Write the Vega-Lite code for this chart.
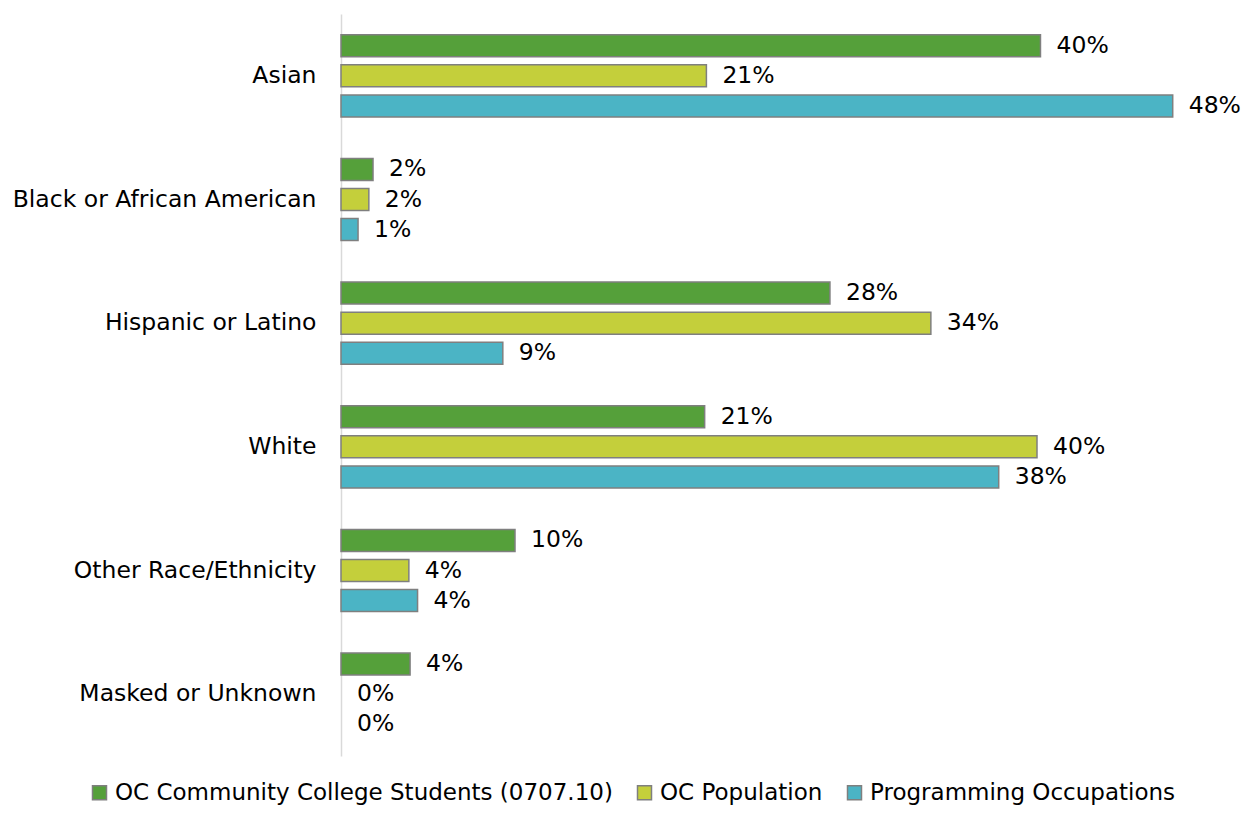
{
  "$schema": "https://vega.github.io/schema/vega-lite/v6.json",
  "autosize": "none",
  "padding": {"left": 341, "top": 14, "right": 34, "bottom": 65},
  "width": 870,
  "height": 742,
  "config": {
    "view": {"stroke": null},
    "font": "DejaVu Sans"
  },
  "data": {
    "values": [
      {"category": "Asian", "series": "OC Community College Students (0707.10)", "value": 0.402},
      {"category": "Asian", "series": "OC Population", "value": 0.21},
      {"category": "Asian", "series": "Programming Occupations", "value": 0.478},
      {"category": "Black or African American", "series": "OC Community College Students (0707.10)", "value": 0.0184},
      {"category": "Black or African American", "series": "OC Population", "value": 0.016},
      {"category": "Black or African American", "series": "Programming Occupations", "value": 0.0098},
      {"category": "Hispanic or Latino", "series": "OC Community College Students (0707.10)", "value": 0.281},
      {"category": "Hispanic or Latino", "series": "OC Population", "value": 0.339},
      {"category": "Hispanic or Latino", "series": "Programming Occupations", "value": 0.093},
      {"category": "White", "series": "OC Community College Students (0707.10)", "value": 0.209},
      {"category": "White", "series": "OC Population", "value": 0.4},
      {"category": "White", "series": "Programming Occupations", "value": 0.378},
      {"category": "Other Race/Ethnicity", "series": "OC Community College Students (0707.10)", "value": 0.1},
      {"category": "Other Race/Ethnicity", "series": "OC Population", "value": 0.039},
      {"category": "Other Race/Ethnicity", "series": "Programming Occupations", "value": 0.044},
      {"category": "Masked or Unknown", "series": "OC Community College Students (0707.10)", "value": 0.0397},
      {"category": "Masked or Unknown", "series": "OC Population", "value": 0.0},
      {"category": "Masked or Unknown", "series": "Programming Occupations", "value": 0.0}
    ]
  },
  "encoding": {
    "y": {
      "field": "category",
      "type": "nominal",
      "sort": ["Asian", "Black or African American", "Hispanic or Latino", "White", "Other Race/Ethnicity", "Masked or Unknown"],
      "scale": {"paddingInner": 0.27, "paddingOuter": 0.135},
      "axis": {
        "title": null,
        "ticks": false,
        "domainColor": "#d9d9d9",
        "domainWidth": 1.5,
        "labelFontSize": 23.5,
        "labelColor": "#000000",
        "labelPadding": 25,
        "labelLimit": 400
      }
    },
    "yOffset": {
      "field": "series",
      "type": "nominal",
      "sort": ["OC Community College Students (0707.10)", "OC Population", "Programming Occupations"],
      "scale": {"paddingInner": 0.27, "paddingOuter": 0.135}
    },
    "x": {
      "field": "value",
      "type": "quantitative",
      "scale": {"domain": [0, 0.5], "nice": false},
      "axis": null
    }
  },
  "layer": [
    {
      "mark": {"type": "bar", "stroke": "#7f7f7f", "strokeWidth": 1.5},
      "encoding": {
        "strokeOpacity": {"condition": {"test": "datum.value == 0", "value": 0}, "value": 1},
        "color": {
          "field": "series",
          "type": "nominal",
          "sort": ["OC Community College Students (0707.10)", "OC Population", "Programming Occupations"],
          "scale": {
            "domain": ["OC Community College Students (0707.10)", "OC Population", "Programming Occupations"],
            "range": ["#55a03a", "#c4cf3b", "#4bb4c5"]
          },
          "legend": {
            "title": null,
            "orient": "none",
            "legendX": -253,
            "legendY": 767,
            "direction": "horizontal",
            "symbolType": "square",
            "symbolSize": 196,
            "symbolStrokeColor": "#7f7f7f",
            "symbolStrokeWidth": 1.5,
            "labelFontSize": 23,
            "labelColor": "#000000",
            "labelLimit": 600,
            "labelOffset": 4,
            "columnPadding": 20
          }
        }
      }
    },
    {
      "mark": {"type": "text", "align": "left", "baseline": "middle", "dx": 16, "fontSize": 23.5, "color": "#000000"},
      "encoding": {
        "text": {"field": "value", "type": "quantitative", "format": ".0%"}
      }
    }
  ]
}
